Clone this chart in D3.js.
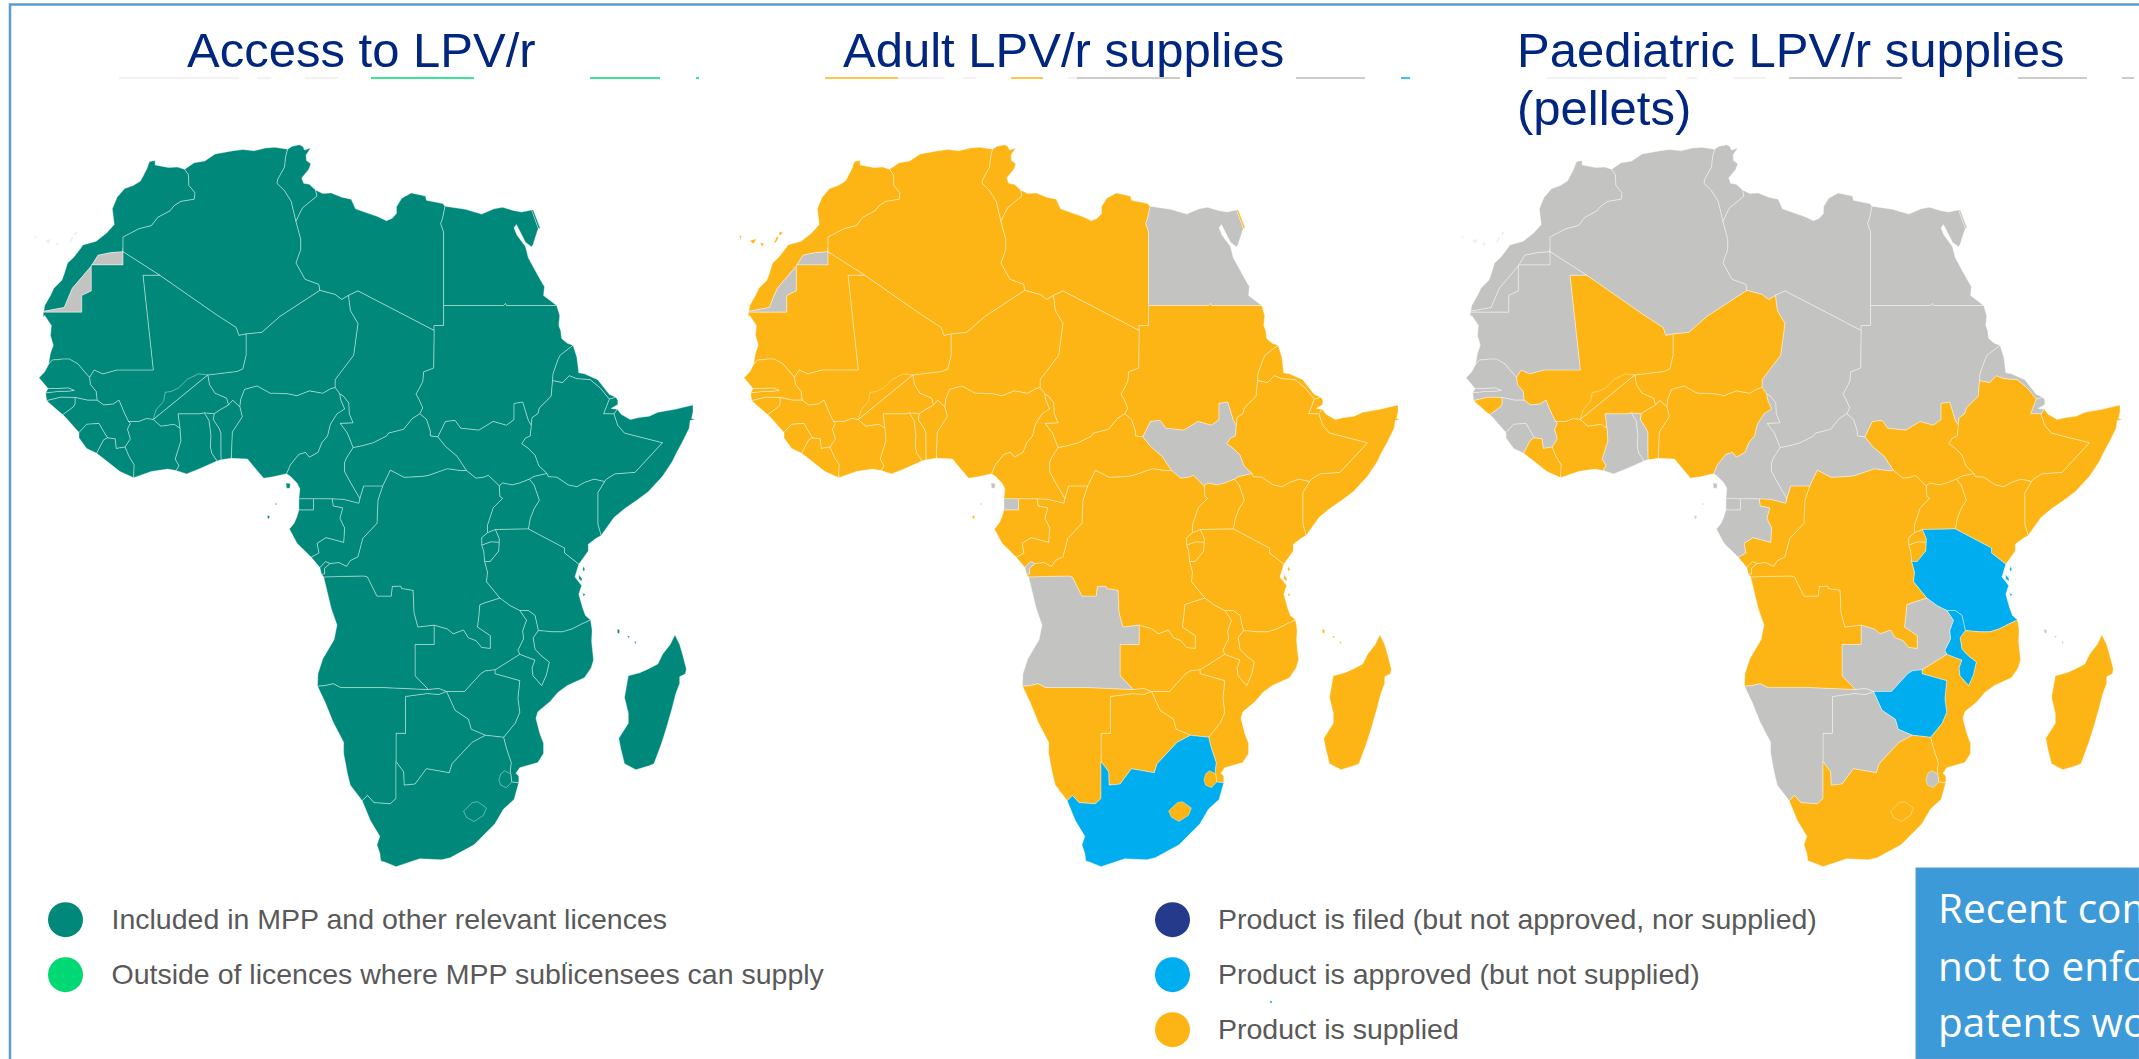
<!DOCTYPE html>
<html lang="en">
<head>
<meta charset="UTF-8">
<title>LPV/r access and supplies in Africa</title>
<script src="https://cdn.jsdelivr.net/npm/d3@7"></script>
<style>
  html, body { margin: 0; padding: 0; background: #fff; overflow: hidden; }
  svg { display: block; }
  text { font-family: "Liberation Sans", Arial, sans-serif; }
</style>
</head>
<body>
<div id="chart"></div>
<script>
// border and coast lines in [lon, lat]. shared by the countries below
const arcs = {
  cMA: [[-17,21.42],[-16.9,22],[-16.3,23],[-15.95,23.7],[-15.1,24.5],[-14.9,25],[-14.5,26.2],[-13.9,26.7],[-13.1,27.65],[-12.9,27.95],[-11.5,28.3],[-10.4,29.1],[-9.6,29.9],[-9.8,31.4],[-9.3,32.5],[-8.5,33.3],[-7.6,33.6],[-6.85,34],[-6.6,34.4],[-6.15,35.2],[-5.9,35.8],[-5.3,35.9],[-5.3,35.5],[-3.9,35.25],[-2.95,35.3],[-2.2,35.1]],
  cDZ: [[-2.2,35.1],[-1.2,35.7],[-0.1,35.85],[1,36.5],[2.9,36.8],[3.9,36.9],[5.1,36.8],[6.3,37.05],[7.3,37.1],[8.62,36.94]],
  cTN: [[8.62,36.94],[9.1,37.2],[9.85,37.33],[10.2,37.2],[10.4,36.85],[11.05,37.05],[10.55,36.4],[10.6,35.9],[11.05,35.6],[10.85,35.1],[10.1,34.3],[10.3,33.8],[10.9,33.7],[11.56,33.17]],
  cLY: [[11.56,33.17],[12.3,32.85],[13.2,32.9],[14.3,32.5],[15.3,32.3],[15.75,31.4],[17,31],[18,30.7],[19,30.27],[19.6,30.5],[20.05,30.95],[20.05,31.6],[20.6,32.4],[21.6,32.9],[23.1,32.6],[23.2,32.2],[24.9,31.9],[25.15,31.65]],
  cEG: [[25.15,31.65],[27.3,31.35],[29,30.9],[30.3,31.4],[31.2,31.55],[32.3,31.25],[33.2,31.1],[34.25,31.3],[34.95,29.55],[34.4,28],[34.25,27.75],[33.6,28.2],[32.65,29.9],[32.4,29.6],[32.7,28.9],[33.6,27.8],[33.9,26.7],[34.9,25],[35.5,24],[35.6,23.9],[35.5,23],[36.88,22]],
  cSD: [[36.88,22],[37.2,21],[37.1,20],[37.3,19.5],[37.4,18.7],[38,18.2],[38.6,18]],
  cER: [[38.6,18],[39,16.8],[39.2,15.2],[39.8,15.1],[41.2,14.5],[42.4,13],[43.1,12.7]],
  cDJ: [[43.1,12.7],[43.3,12.4],[43.3,11.95],[42.6,11.55],[43.25,11.47]],
  cSO: [[43.25,11.47],[43.65,10.95],[44.6,10.4],[45.5,10.6],[46.6,10.75],[47.5,11.15],[48.4,11.3],[49.3,11.45],[50.3,11.7],[51.2,11.9],[51.2,11.2],[51.05,10.5],[51.45,10.4],[50.9,10.3],[50.8,9.5],[50.1,8.1],[49.5,7],[49,6],[48,4.5],[46.5,2.9],[45.3,2],[44,1.1],[42.9,0.2],[41.55,-1.68]],
  cKE: [[41.55,-1.68],[41,-2],[40.2,-2.6],[40.2,-3.3],[39.7,-4],[39.2,-4.68]],
  cTZ: [[39.2,-4.68],[38.8,-6],[39.5,-6.9],[39.2,-7.8],[39.4,-8.5],[39.6,-9.2],[39.9,-10],[40.44,-10.47]],
  cMZ: [[40.44,-10.47],[40.6,-11.5],[40.55,-12.7],[40.75,-14.6],[40.5,-15.4],[39.8,-16.4],[38,-17.2],[37,-17.9],[36.2,-18.8],[34.9,-19.85],[34.7,-20.5],[35.1,-22],[35.5,-23],[35.5,-24],[34.9,-24.9],[33,-25.4],[32.6,-25.95],[32.9,-26.2],[32.9,-26.86]],
  cZA: [[32.9,-26.86],[32.4,-28.5],[31.3,-29.4],[30.4,-30.8],[28.2,-32.8],[25.7,-34],[24.8,-34.2],[22.5,-34.1],[20,-34.83],[18.8,-34.4],[18.4,-34.3],[18.3,-33.6],[18,-32.8],[18.3,-32],[17.3,-30.5],[16.45,-28.6]],
  cNA: [[16.45,-28.6],[15.2,-27.1],[14.9,-26],[14.5,-24],[14.5,-22.9],[13.4,-20.9],[12.6,-19],[11.75,-17.25]],
  cAO: [[11.75,-17.25],[11.8,-16],[12.3,-14.5],[13.5,-12.5],[13.8,-11],[13.2,-9.3],[12.4,-6]],
  cCD: [[12.4,-6],[12.18,-5.75]],
  cCB: [[12.18,-5.75],[12,-5.03]],
  cCG: [[12,-5.03],[11.1,-3.95]],
  cGA: [[11.1,-3.95],[9.6,-2.5],[8.8,-1],[9.3,-0.4],[9.6,0.3],[9.8,1]],
  cGQ: [[9.8,1],[9.8,2.17]],
  cCM: [[9.8,2.17],[9.9,3.2],[9.6,3.8],[8.9,4.5],[8.5,4.77]],
  cNG: [[8.5,4.77],[7.1,4.45],[6.1,4.3],[5.4,5.1],[4.4,6.3],[2.7,6.37]],
  cBJ: [[2.7,6.37],[1.62,6.22]],
  cTG: [[1.62,6.22],[1.2,6.1]],
  cGH: [[1.2,6.1],[-0.5,5.35],[-2,4.75],[-3.1,5.1]],
  cCI: [[-3.1,5.1],[-4,5.25],[-5.7,5],[-7.55,4.35]],
  cLR: [[-7.55,4.35],[-9,5],[-10.8,6.4],[-11.45,6.9]],
  cSL: [[-11.45,6.9],[-12.5,7.4],[-13.3,8.5],[-13.3,9.05]],
  cGN: [[-13.3,9.05],[-13.7,9.5],[-14.6,10.5],[-15,10.9]],
  cGW: [[-15,10.9],[-15.5,11.3],[-16.7,12.35]],
  cSNs: [[-16.7,12.35],[-16.8,13.15]],
  cGM: [[-16.8,13.15],[-16.55,13.6]],
  cSNn: [[-16.55,13.6],[-16.9,14],[-17.5,14.7],[-16.9,15.3],[-16.5,16.05]],
  cMR: [[-16.5,16.05],[-16.3,17.2],[-16,18],[-16.3,19],[-16.2,20],[-16.9,21],[-17.05,20.85],[-17.05,21.33]],

  MA_DZ: [[-2.2,35.1],[-1.8,34.6],[-1.75,33.6],[-1.1,32.9],[-1.2,32.3],[-2.6,32.1],[-3.3,31.7],[-3.75,31.2],[-5,30.6],[-5.7,29.8],[-7,29.5],[-8.67,28.7],[-8.67,27.67]],
  MA_WS: [[-8.67,27.67],[-8.67,27.29],[-10,27.2],[-11.3,26.95],[-12,25.9],[-14,23.7],[-14.85,21.8],[-17,21.42]],
  WS_MR: [[-17.05,21.33],[-13,21.33],[-13,23],[-12,23.45],[-12,26],[-8.67,26],[-8.67,27.29]],
  DZ_TN: [[8.62,36.94],[8.4,36.2],[8.3,35.3],[7.6,34.2],[7.5,33.8],[8.3,33.1],[9,32.1],[9.5,30.2]],
  DZ_LY: [[9.5,30.2],[10,28.5],[10,27.5],[9.5,26.2],[10.45,24.6],[11.9,24.1],[12,23.5]],
  DZ_NE: [[12,23.5],[7.8,20.9],[5.9,19.3],[4.25,19.15]],
  DZ_ML: [[4.25,19.15],[3.5,19],[3.2,19.8],[1.1,21.1],[-4.83,25]],
  DZ_MR: [[-4.83,25],[-8.67,27.29]],
  TN_LY: [[11.56,33.17],[11.7,32.6],[10.2,31.5],[9.9,31],[9.5,30.2]],
  LY_EG: [[25.15,31.65],[24.9,30.5],[24.7,30],[25,29.2],[25,22]],
  LY_SD: [[25,22],[25,20],[24,20],[24,19.5]],
  LY_TD: [[24,19.5],[16,23.45],[15,23]],
  LY_NE: [[15,23],[14.3,22.6],[13.6,23.1],[12,23.5]],
  SD_EG: [[25,22],[31.3,22],[31.5,22.2],[31.6,22],[36.88,22]],
  SD_ER: [[38.6,18],[37.25,17],[37,16.5],[36.5,15.1],[36.45,14.4]],
  SD_ET: [[36.45,14.4],[36.3,12.8],[35.07,11.6],[34.9,11],[34.3,10.6],[34.2,9.8]],
  SD_SS: [[34.2,9.8],[33.9,10.3],[33.3,12.2],[32.4,12.05],[32.4,10.4],[31.6,9.8],[30.2,10.2],[28.7,9.3],[26.8,9.5],[26.2,10.3],[25.2,10.2],[24.4,8.6]],
  SD_CF: [[22.5,11],[23.2,10.4],[23.6,9.2],[23.6,8.7],[24.4,8.6]],
  TD_SD: [[22.5,11],[22.8,11.6],[22.4,12.5],[22.1,13],[22.8,14.3],[22.9,15.3],[23.95,15.7],[24,19.5]],
  ER_ET: [[36.45,14.4],[37.5,14.2],[38.2,14.9],[39,14.6],[40.4,14.5],[41.5,13.6],[42.4,12.5]],
  ER_DJ: [[42.4,12.5],[43.1,12.7]],
  DJ_ET: [[42.4,12.5],[41.8,11],[42.9,10.98]],
  DJ_SO: [[42.9,10.98],[43.25,11.47]],
  ET_SO: [[42.9,10.98],[43.3,9.8],[44,9],[48,8],[45.1,4.9],[43,4.75],[42.1,4.2],[41.9,3.95]],
  ET_KE: [[41.9,3.95],[40.8,4.2],[39.8,3.85],[39,3.4],[38.1,3.6],[36.9,4.4],[36,4.45],[35.85,4.8]],
  ET_SS: [[35.85,4.8],[35,5.6],[34.6,6.7],[33.9,7.4],[33.2,7.9],[33.6,8.5],[34.1,8.7],[34.2,9.8]],
  SO_KE: [[41.9,3.95],[41.2,2.8],[41.2,-0.5],[41.55,-1.68]],
  SS_CF: [[24.4,8.6],[25.2,7.6],[26.4,6.6],[27.4,5.1]],
  SS_CD: [[27.4,5.1],[28.4,4.3],[29.2,4.4],[29.7,4.6],[30.85,3.5]],
  SS_UG: [[30.85,3.5],[31.2,3.8],[32.2,3.6],[33,3.8],[34,4.2]],
  SS_KE: [[34,4.2],[34.5,4.5],[35.85,4.8]],
  UG_KE: [[34,4.2],[34.5,3.6],[35.05,2],[34.5,1.1],[34.1,0.1],[33.9,-1]],
  KE_TZ: [[33.9,-1],[37.7,-3],[37.7,-3.5],[39.2,-4.68]],
  UG_TZ: [[33.9,-1],[30.45,-1.06]],
  UG_CD: [[30.85,3.5],[30.9,2.4],[31.2,2.2],[30.2,1.2],[29.8,0],[29.6,-0.6],[29.6,-1.4]],
  UG_RW: [[29.6,-1.4],[30.45,-1.06]],
  RW_TZ: [[30.45,-1.06],[30.85,-2],[30.85,-2.4]],
  RW_BI: [[30.85,-2.4],[29.95,-2.35],[29,-2.7]],
  RW_CD: [[29,-2.7],[29,-1.9],[29.6,-1.4]],
  BI_CD: [[29,-2.7],[29.2,-3.3],[29.3,-4.4]],
  BI_TZ: [[29.3,-4.4],[29.9,-4.4],[30.8,-3.3],[30.85,-2.4]],
  TZ_CD: [[29.3,-4.4],[29.6,-5.5],[29.5,-6.5],[30.9,-8.2]],
  ZM_TZ: [[30.9,-8.2],[32,-9],[33,-9.5]],
  MW_TZ: [[33,-9.5],[33.9,-9.5],[34.6,-10],[34.95,-11.57]],
  TZ_MZ: [[34.95,-11.57],[36.5,-11.7],[37.5,-11.7],[38.5,-11.4],[39.5,-10.9],[40.44,-10.47]],
  MW_MZ: [[34.95,-11.57],[34.4,-12.3],[34.6,-13.5],[35.3,-14.2],[36.1,-14.8],[35.8,-16.1],[35.3,-17.2],[34.4,-16.2],[34.3,-15.4],[34.6,-14.6],[33,-14]],
  MW_ZM: [[33,-9.5],[33.7,-10.5],[33.3,-11.6],[33.4,-12.4],[32.8,-13.6],[33,-14]],
  ZM_MZ: [[33,-14],[30.4,-15.6]],
  ZM_ZW: [[30.4,-15.6],[29.4,-15.7],[28.9,-16],[27.2,-17.8],[25.3,-17.8]],
  MZ_ZW: [[30.4,-15.6],[30.4,-16],[33,-16.7],[32.8,-18.5],[33,-19.9],[32.5,-21],[31.3,-22.4]],
  ZW_ZA: [[31.3,-22.4],[29.4,-22.2]],
  ZW_BW: [[29.4,-22.2],[27.9,-21.6],[27.6,-20.6],[26.2,-19.7],[25.3,-17.8]],
  BW_ZA: [[29.4,-22.2],[28,-22.9],[27.1,-23.8],[25.9,-25],[25.6,-25.9],[23.2,-25.5],[22,-27],[20.85,-27.1],[20.8,-25.8],[20,-24.8]],
  NA_BW: [[20,-24.8],[20,-22],[21,-22],[21,-18.3],[23.3,-18],[24.5,-18.1],[25.3,-17.8]],
  NA_ZM: [[25.3,-17.8],[24.5,-17.5],[23.4,-17.6]],
  NA_ZA: [[20,-24.8],[20,-28.4],[19.4,-28.9],[17.7,-28.8],[17,-28.1],[16.45,-28.6]],
  NA_AO: [[23.4,-17.6],[18.7,-17.4],[14.2,-17.4],[13.4,-17],[12.5,-17.2],[11.75,-17.25]],
  AO_ZM: [[23.4,-17.6],[22,-16.2],[22,-13],[24,-13],[24,-11]],
  AO_CD: [[24,-11],[22.3,-11.2],[21.9,-9.7],[21.8,-7.4],[20.6,-7.2],[20.5,-6.95],[19.6,-7],[19.5,-8],[18,-8],[17,-6],[16.6,-5.9],[12.4,-6]],
  ZM_CD: [[24,-11],[25.4,-11.4],[26,-11.9],[27.1,-11.5],[27.6,-12.3],[28.4,-12.6],[29,-13.3],[29.9,-13.4],[29.9,-12.1],[28.55,-11.2],[28.7,-10],[28.8,-8.9],[29.3,-8.7],[30.9,-8.2]],
  CD_CF: [[18.6,3.5],[19.4,5.15],[20.85,4.4],[22.8,4.5],[23.4,4.6],[25.4,5.3],[26.8,5.1],[27.4,5.1]],
  CG_CF: [[16.2,2.2],[16.6,3.5],[18.6,3.5]],
  CM_CF: [[15.5,7.5],[14.8,6.4],[14.6,5.9],[14.6,5],[15.2,3.9],[16.2,2.2]],
  CM_CG: [[16.2,2.2],[16.1,1.7],[14.5,2.1],[13.3,2.16]],
  CM_GA: [[13.3,2.16],[11.33,2.17]],
  CM_GQ: [[11.33,2.17],[9.8,2.17]],
  GQ_GA: [[11.33,2.17],[11.33,1],[9.8,1]],
  GA_CG: [[13.3,2.16],[13.4,1.4],[14.4,1.2],[14.1,0.1],[14.6,-0.9],[14.5,-2.4],[13.8,-2.2],[12.65,-1.9],[11.7,-2.5],[11.9,-3.5],[11.1,-3.95]],
  CG_CD: [[18.6,3.5],[18.1,2],[18,-0.4],[16.5,-2],[16,-3.9],[15.2,-4.3],[14.8,-4.9],[14,-4.5],[13.1,-4.6]],
  CB_CG: [[12,-5.03],[12.6,-4.4],[13.1,-4.6]],
  CB_CD: [[13.1,-4.6],[12.5,-5.1],[12.5,-5.7],[12.18,-5.75]],
  NG_TD: [[13.6,13.7],[14.07,13.08]],
  NG_CM: [[14.07,13.08],[14.2,12.4],[14.6,11.5],[13.8,11],[13.1,9.9],[12.8,8.7],[12.2,8],[11.8,7],[10.9,6.5],[10.5,7],[9.8,6.8],[8.9,5.7],[8.5,4.77]],
  TD_CM: [[14.07,13.08],[14.5,12.8],[15.05,12.1],[15.1,11],[15.5,10.05],[14.15,10],[14.9,9],[15.5,7.5]],
  TD_CF: [[15.5,7.5],[16.5,7.7],[17.6,8],[19,8.7],[19.2,9],[20.8,9.4],[21.7,10.5],[22.5,11]],
  NE_TD: [[15,23],[15.2,21.5],[16,20.2],[15.55,17],[13.6,14.5],[13.6,13.7]],
  NE_NG: [[13.6,13.7],[13.1,13.55],[12.3,13.1],[10.9,13.35],[9.6,12.85],[8.6,13.05],[7.4,13.1],[6.8,13.1],[5.4,13.85],[4.1,13.5],[3.7,12.5],[3.6,11.7]],
  NE_BJ: [[3.6,11.7],[2.85,12.38],[2.4,11.9]],
  NE_BF: [[2.4,11.9],[2.2,12.6],[1,13.1],[0.4,14],[0.23,14.99]],
  NE_ML: [[0.23,14.99],[3.3,15.35],[3.9,15.6],[4.25,17],[4.25,19.15]],
  ML_BF: [[0.23,14.99],[-0.75,15.1],[-1.9,14.55],[-2.85,13.65],[-3.6,13.3],[-4.25,13.2],[-4.4,12.3],[-5.2,11.4],[-5.5,10.4]],
  ML_CI: [[-5.5,10.4],[-6.2,10.5],[-7,10.2],[-8.1,10.2]],
  ML_GN: [[-8.1,10.2],[-8.5,11],[-9.1,12.4],[-9.7,12],[-10.7,11.9],[-11.4,12.4]],
  ML_SN: [[-11.4,12.4],[-11.5,13.3],[-12.1,14],[-12.2,14.75]],
  ML_MR: [[-12.2,14.75],[-11.7,15.5],[-10.8,15.1],[-9.3,15.5],[-5.5,15.5],[-6.58,25],[-4.83,25]],
  SN_MR: [[-12.2,14.75],[-12.8,15.4],[-13.4,16.1],[-14.3,16.6],[-15,16.6],[-16.1,16.5],[-16.5,16.05]],
  GM_S: [[-16.8,13.15],[-15.5,13.3],[-14.7,13.3],[-13.8,13.4]],
  GM_N: [[-13.8,13.4],[-14.4,13.65],[-15.5,13.6],[-16.55,13.6]],
  SN_GW: [[-16.7,12.35],[-15.2,12.7],[-13.7,12.67]],
  SN_GN: [[-13.7,12.67],[-12.4,12.4],[-11.4,12.4]],
  GB_GN: [[-13.7,12.67],[-13.7,12],[-13.9,11.7],[-15,10.9]],
  GN_SL: [[-13.3,9.05],[-12.5,9.9],[-11.2,10],[-10.8,9.3],[-10.3,8.5]],
  SL_LR: [[-10.3,8.5],[-10.7,8.3],[-11.45,6.9]],
  GN_LR: [[-10.3,8.5],[-9.5,8.4],[-9.4,7.4],[-8.45,7.55]],
  GN_CI: [[-8.45,7.55],[-7.9,8.4],[-8.2,9.4],[-7.9,10],[-8.1,10.2]],
  LR_CI: [[-8.45,7.55],[-8,6.5],[-7.5,5.7],[-7.55,4.35]],
  CI_BF: [[-5.5,10.4],[-4.7,9.7],[-3.3,9.9],[-2.7,9.5]],
  CI_GH: [[-2.7,9.5],[-2.6,8.2],[-3.2,6.3],[-2.8,5.6],[-3.1,5.1]],
  GH_BF: [[-2.7,9.5],[-2.9,11],[-0.6,11],[-0.15,11.1]],
  GH_TG: [[-0.15,11.1],[0.35,10.3],[0.55,8.8],[0.5,7.5],[0.65,6.9],[1.2,6.1]],
  TG_BF: [[-0.15,11.1],[0.9,11]],
  TG_BJ: [[0.9,11],[0.8,10.4],[1.4,9.5],[1.6,9],[1.6,6.95],[1.62,6.22]],
  BF_BJ: [[0.9,11],[1.5,11.4],[2.4,11.9]],
  BJ_NG: [[3.6,11.7],[3.85,10.7],[2.8,9.1],[2.75,7.9],[2.7,6.37]],
  ZA_MZ: [[31.3,-22.4],[31.6,-23.5],[32.1,-24.9],[32,-25.7],[32.15,-26.8],[32.9,-26.86]]
};

// each country is a list of arcs walked in order, "-" means walk it backwards
const countries = [
  ["Morocco", ["cMA","MA_DZ","MA_WS"]],
  ["Western Sahara", ["MA_WS","WS_MR"]],
  ["Algeria", ["cDZ","DZ_TN","DZ_LY","DZ_NE","DZ_ML","DZ_MR","-MA_DZ"]],
  ["Tunisia", ["cTN","TN_LY","-DZ_TN"]],
  ["Libya", ["cLY","LY_EG","LY_SD","LY_TD","LY_NE","-DZ_LY","-TN_LY"]],
  ["Egypt", ["cEG","-SD_EG","-LY_EG"]],
  ["Sudan", ["cSD","SD_ER","SD_ET","SD_SS","-SD_CF","TD_SD","-LY_SD","SD_EG"]],
  ["Eritrea", ["cER","-ER_DJ","-ER_ET","-SD_ER"]],
  ["Djibouti", ["cDJ","-DJ_SO","-DJ_ET","ER_DJ"]],
  ["Ethiopia", ["ER_ET","DJ_ET","ET_SO","ET_KE","ET_SS","-SD_ET"]],
  ["Somalia", ["cSO","-SO_KE","-ET_SO","DJ_SO"]],
  ["Kenya", ["cKE","-KE_TZ","-UG_KE","SS_KE","-ET_KE","SO_KE"]],
  ["South Sudan", ["-SD_SS","-ET_SS","-SS_KE","-SS_UG","-SS_CD","-SS_CF"]],
  ["Uganda", ["SS_UG","UG_KE","UG_TZ","-UG_RW","-UG_CD"]],
  ["Rwanda", ["UG_RW","RW_TZ","RW_BI","RW_CD"]],
  ["Burundi", ["-RW_BI","-BI_TZ","-BI_CD"]],
  ["Tanzania", ["cTZ","-TZ_MZ","-MW_TZ","-ZM_TZ","-TZ_CD","BI_TZ","-RW_TZ","-UG_TZ","KE_TZ"]],
  ["Mozambique", ["cMZ","-ZA_MZ","-MZ_ZW","-ZM_MZ","-MW_MZ","TZ_MZ"]],
  ["Malawi", ["MW_TZ","MW_MZ","-MW_ZM"]],
  ["Zambia", ["ZM_TZ","MW_ZM","ZM_MZ","ZM_ZW","NA_ZM","AO_ZM","ZM_CD"]],
  ["Zimbabwe", ["-ZM_ZW","MZ_ZW","ZW_ZA","ZW_BW"]],
  ["Botswana", ["-ZW_BW","BW_ZA","NA_BW"]],
  ["Namibia", ["cNA","-NA_AO","-NA_ZM","-NA_BW","NA_ZA"]],
  ["South Africa", ["cZA","-NA_ZA","-BW_ZA","-ZW_ZA","ZA_MZ"]],
  ["Angola", ["cAO","-AO_CD","-AO_ZM","NA_AO"]],
  ["Cabinda", ["cCB","CB_CG","CB_CD"]],
  ["DR Congo", ["cCD","-CB_CD","-CG_CD","CD_CF","SS_CD","UG_CD","-RW_CD","BI_CD","TZ_CD","-ZM_CD","AO_CD"]],
  ["Congo", ["cCG","-GA_CG","-CM_CG","CG_CF","CG_CD","-CB_CG"]],
  ["Gabon", ["cGA","-GQ_GA","-CM_GA","GA_CG"]],
  ["Equatorial Guinea", ["cGQ","-CM_GQ","GQ_GA"]],
  ["Cameroon", ["cCM","-NG_CM","TD_CM","CM_CF","CM_CG","CM_GA","CM_GQ"]],
  ["Central African Republic", ["-CM_CF","TD_CF","SD_CF","SS_CF","-CD_CF","-CG_CF"]],
  ["Chad", ["LY_TD","NE_TD","NG_TD","TD_CM","TD_CF","TD_SD"]],
  ["Niger", ["DZ_NE","-NE_ML","-NE_BF","-NE_BJ","-NE_NG","-NE_TD","LY_NE"]],
  ["Nigeria", ["cNG","-BJ_NG","-NE_NG","NG_TD","NG_CM"]],
  ["Benin", ["cBJ","-TG_BJ","BF_BJ","-NE_BJ","BJ_NG"]],
  ["Togo", ["cTG","-GH_TG","TG_BF","TG_BJ"]],
  ["Ghana", ["cGH","-CI_GH","GH_BF","GH_TG"]],
  ["Burkina Faso", ["-GH_BF","-CI_BF","-ML_BF","-NE_BF","-BF_BJ","-TG_BF"]],
  ["Mali", ["NE_ML","DZ_ML","-ML_MR","-ML_SN","-ML_GN","-ML_CI","ML_BF"]],
  ["Mauritania", ["cMR","WS_MR","-DZ_MR","-ML_MR","SN_MR"]],
  ["Senegal", ["cSNn","-SN_MR","-ML_SN","-SN_GN","-SN_GW","cSNs","GM_S","GM_N"]],
  ["Gambia", ["cGM","-GM_N","-GM_S"]],
  ["Guinea-Bissau", ["cGW","SN_GW","GB_GN"]],
  ["Guinea", ["cGN","-GB_GN","SN_GN","-ML_GN","-GN_CI","-GN_LR","-GN_SL"]],
  ["Sierra Leone", ["cSL","GN_SL","SL_LR"]],
  ["Liberia", ["cLR","-SL_LR","GN_LR","LR_CI"]],
  ["Cote d'Ivoire", ["cCI","-LR_CI","GN_CI","-ML_CI","CI_BF","CI_GH"]]
];

// shapes that stand on their own
const islands = [
  ["Madagascar", [[49.3,-12],[49.8,-13],[50.1,-14],[50.5,-15.5],[50.4,-16],[49.8,-16.3],[49.8,-17],[49.4,-18],[49,-19.5],[48.4,-21.5],[47.9,-23],[47.1,-25],[46.6,-25.2],[45.2,-25.6],[44,-25],[43.6,-23.5],[43.4,-22.5],[44.4,-21],[44.4,-20],[44,-18.4],[44.4,-16.2],[45.6,-15.9],[46.5,-15.5],[47.5,-15],[48,-14],[48.8,-13]]],
  ["Lesotho", [[28.56,-28.7],[29.5,-29.3],[29.2,-30],[28.2,-30.6],[27.4,-30.2],[27.1,-29.6],[28,-28.8]]],
  ["Swaziland", [[31.4,-25.7],[32.05,-26],[32.15,-26.8],[31.6,-27.35],[31,-27.1],[30.8,-26.6],[31,-26]]],
  ["Bioko", [[8.45,3.8],[8.9,3.75],[8.85,3.25],[8.5,3.25]]],
  ["Sao Tome", [[6.5,0.4],[6.75,0.35],[6.65,0.05],[6.48,0.15]]],
  ["Principe", [[7.32,1.7],[7.48,1.65],[7.42,1.5],[7.3,1.55]]],
  ["Zanzibar", [[39.2,-5.75],[39.55,-6.2],[39.5,-6.45],[39.2,-6.2]]],
  ["Pemba", [[39.7,-4.9],[39.85,-5.2],[39.7,-5.45],[39.6,-5.2]]],
  ["Mafia", [[39.6,-7.7],[39.9,-7.8],[39.7,-8.05]]],
  ["Grande Comore", [[43.25,-11.4],[43.5,-11.5],[43.45,-11.9],[43.25,-11.8]]],
  ["Anjouan", [[44.25,-12.1],[44.55,-12.15],[44.45,-12.35]]],
  ["Mayotte", [[45.05,-12.65],[45.25,-12.75],[45.15,-13]]],
  ["Tenerife", [[-16.9,28.35],[-16.2,28.55],[-16.5,28.05]]],
  ["Gran Canaria", [[-15.8,28.15],[-15.4,28.1],[-15.6,27.75]]],
  ["La Palma", [[-18,28.85],[-17.75,28.8],[-17.85,28.45]]],
  ["Fuerteventura", [[-14.05,28.75],[-13.85,28.7],[-14.1,28.25],[-14.4,28.05]]],
  ["Lanzarote", [[-13.75,29.2],[-13.45,29.2],[-13.6,28.9],[-13.85,28.9]]],
  ["Eilat coast", [[34.25,31.3],[34.42,31.3],[35.15,29.55],[34.95,29.55]]]
];

const canaries = ["Tenerife","Gran Canaria","La Palma","Fuerteventura","Lanzarote"];

const panelTitles = [["Access to LPV/r"], ["Adult LPV/r supplies"], ["Paediatric LPV/r supplies", "(pellets)"]];

// status per map, anything not listed takes the map's default
const accessOutside = ["Western Sahara"];

const adultNone = ["Egypt","South Sudan","Equatorial Guinea","Bioko","Angola","Cabinda","Western Sahara"];
const adultApproved = ["South Africa"];

const paedSupplied = ["Mali","Niger","Nigeria","Benin","Burkina Faso","Cote d'Ivoire","Liberia","Guinea-Bissau",
  "South Sudan","Ethiopia","Somalia","Kenya","Uganda","Rwanda","Burundi","DR Congo","Congo","Angola","Cabinda",
  "Mozambique","South Africa","Lesotho","Madagascar"];
const paedApproved = ["Tanzania","Zanzibar","Pemba","Mafia","Malawi","Zimbabwe"];

const legendLeft = ["Included in MPP and other relevant licences", "Outside of licences where MPP sublicensees can supply"];
const legendRight = ["Product is filed (but not approved, nor supplied)", "Product is approved (but not supplied)", "Product is supplied"];
const noteLines = ["Recent com", "not to enfo", "patents wo"];

const teal = "#00897b", green = "#00d873", navy = "#263a8c", blue = "#00aeef", yellow = "#fdb515", grey = "#c3c3c1", pale = "#eeeeee";

// map projection, Miller fits the picture. scales are pinned on the 20E meridian and the 22N line
const miller = lat => 1.25 * Math.log(Math.tan(Math.PI / 4 + 0.4 * lat * Math.PI / 180)) * 180 / Math.PI;
const x = d3.scaleLinear().domain([20, 25]).range([396, 443.6]);
const y = d3.scaleLinear().domain([0, miller(22)]).range([519.4, 305.5]);
const path = d3.geoPath(d3.geoTransform({
  point(lon, lat) { this.stream.point(x(lon), y(miller(lat))); }
}));

const walk = names => {
  const ring = [];
  names.forEach(n => {
    const line = n[0] === "-" ? arcs[n.slice(1)].slice().reverse() : arcs[n];
    ring.push(...line);
  });
  ring.push(ring[0]);
  return ring;
};
const feature = (name, ring) => ({
  type: "Feature",
  properties: { name },
  geometry: { type: "Polygon", coordinates: [ring] }
});
const features = countries.map(([n, names]) => feature(n, walk(names)))
  .concat(islands.map(([n, ring]) => feature(n, ring.concat([ring[0]]))));

const fillAccess = n => accessOutside.includes(n) ? grey : canaries.includes(n) ? pale : teal;
const fillAdult = n => adultApproved.includes(n) ? blue : adultNone.includes(n) ? grey : yellow;
const fillPaed = n => canaries.includes(n) ? pale : paedApproved.includes(n) ? blue : paedSupplied.includes(n) ? yellow : grey;

const svg = d3.select("#chart").append("svg").attr("width", 2139).attr("height", 1059);

svg.append("rect").attr("width", 2139).attr("height", 1059).attr("fill", "#fff");

// slide frame, no right or bottom edge in the picture
svg.append("path").attr("d", "M10,1059V4.5H2139").attr("fill", "none").attr("stroke", "#5b9bd5").attr("stroke-width", 2.5);

const panels = [
  { dx: 0, fill: fillAccess, titleX: 187 },
  { dx: 705, fill: fillAdult, titleX: 843 },
  { dx: 1427, fill: fillPaed, titleX: 1517 }
];

panels.forEach((p, i) => {
  const g = svg.append("g").attr("transform", `translate(${p.dx},0)`);
  g.selectAll("path").data(features).join("path")
    .attr("d", path)
    .attr("fill", d => p.fill(d.properties.name))
    .attr("stroke", "#fff")
    .attr("stroke-opacity", 0.38)
    .attr("stroke-width", 1)
    .attr("stroke-linejoin", "round");
  svg.append("g").selectAll("text").data(panelTitles[i]).join("text")
    .attr("x", p.titleX)
    .attr("y", (d, j) => 67 + j * 58)
    .attr("font-size", 49)
    .attr("fill", "#00267f")
    .text(d => d);
});

// stray bits of rule under the titles
const rules = [[119,239,"#eeeeee"],[257,271,"#eeeeee"],[305,338,"#eeeeee"],[371,474,green],[590,660,green],[696,699,green],
  [825,898,yellow],[898,944,"#eeeeee"],[963,976,"#eeeeee"],[1011,1043,yellow],[1068,1077,"#eeeeee"],[1077,1180,"#bbbbbb"],
  [1296,1365,"#bbbbbb"],[1401,1410,blue],[1547,1667,"#eeeeee"],[1687,1697,"#eeeeee"],[1733,1766,"#eeeeee"],[1789,1902,"#bbbbbb"],
  [2018,2087,"#bbbbbb"],[2122,2134,"#bbbbbb"]];
svg.append("g").selectAll("line").data(rules).join("line")
  .attr("x1", d => d[0]).attr("x2", d => d[1])
  .attr("y1", 78).attr("y2", 78)
  .attr("stroke", d => d[2]).attr("stroke-width", 1.5);

// two specks left over below the maps
svg.append("g").selectAll("circle").data([[566, 963, teal], [1271, 1002, blue]]).join("circle")
  .attr("cx", d => d[0]).attr("cy", d => d[1]).attr("r", 1).attr("fill", d => d[2]);

const drawLegend = (labels, colors, cx, tx, top) => {
  const g = svg.append("g");
  g.selectAll("circle").data(labels).join("circle")
    .attr("cx", cx).attr("cy", (d, i) => top + i * 55)
    .attr("r", 17.5)
    .attr("fill", (d, i) => colors[i]);
  g.selectAll("text").data(labels).join("text")
    .attr("x", tx).attr("y", (d, i) => top + 9 + i * 55)
    .attr("font-size", 28.5)
    .attr("fill", "#595959")
    .text(d => d);
};
drawLegend(legendLeft, [teal, green], 65.5, 111.5, 919.7);
drawLegend(legendRight, [navy, blue, yellow], 1172.5, 1218, 919.7);

// note box runs off the slide
svg.append("rect").attr("x", 1916).attr("y", 868).attr("width", 223).attr("height", 191)
  .attr("fill", "#3d9ad9").attr("stroke", "#5b9bd5").attr("stroke-width", 1);
svg.append("g").selectAll("text").data(noteLines).join("text")
  .attr("x", 1938)
  .attr("y", (d, i) => [923, 981, 1037][i])
  .attr("font-size", 40.5)
  .attr("fill", "#fff")
  .style("font-family", "'Open Sans', sans-serif")
  .text(d => d);
</script>
</body>
</html>
